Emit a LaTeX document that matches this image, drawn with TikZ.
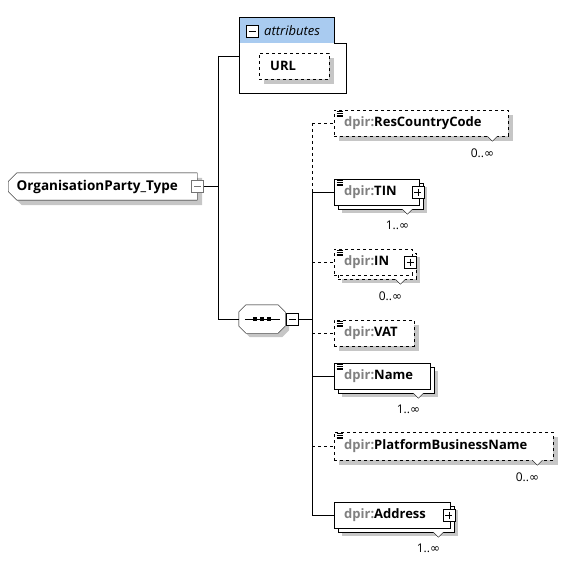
\documentclass[tikz,border=0pt]{standalone}
\usepackage{fontspec}
\setmainfont{Open Sans}
\newfontfamily\symfont{DejaVu Sans}
\usetikzlibrary{positioning,calc,shapes.misc,shadows}

\definecolor{hdrblue}{HTML}{A9CBF0}
\definecolor{shadegray}{HTML}{C6C6C6}
\definecolor{nsgray}{HTML}{808080}

\newcommand{\dpir}[1]{\mbox{{\color{nsgray}dpir:}#1}}
\newcommand{\infmark}{{\symfont ∞}}
\newcommand{\docmark}[1]{\foreach \dy in {1.5,3.3,5.1,6.9} \draw[line width=0.7pt] ($(#1.north west)+(2.5,\dy)$) -- ++(6,0);}
\newcommand{\chev}[1]{\filldraw[fill=white] ($(#1)+(-5,0)$) -- ($(#1)+(0,5)$) -- ($(#1)+(5,0)$);}
\newcommand{\octpath}[1]{($(#1.north west)+(7,0)$) -- ($(#1.north east)+(-7,0)$) -- ($(#1.north east)+(0,7)$)
  -- ($(#1.south east)+(0,-7)$) -- ($(#1.south east)+(-7,0)$) -- ($(#1.south west)+(7,0)$)
  -- ($(#1.south west)+(0,-7)$) -- ($(#1.north west)+(0,7)$) -- cycle}

\tikzset{
  shadeone/.style={general shadow={fill=shadegray,draw=none,shadow xshift=5pt,shadow yshift=-5pt}},
  shadetwo/.style={general shadow={fill=shadegray,draw=none,shadow xshift=8pt,shadow yshift=-8pt},
    general shadow={fill=white,draw=black,#1,shadow xshift=4pt,shadow yshift=-4pt}},
  elbox/.style={draw,fill=white,anchor=west,minimum height=26pt,inner xsep=10pt,inner ysep=0pt,
    align=left,text width=#1,font=\bfseries\fontsize{13}{15}\selectfont},
  optel/.style={elbox=#1,dashed,shadeone},
  optstack/.style={elbox=#1,dashed,shadetwo=dashed},
  reqstack/.style={elbox=#1,shadetwo=solid},
  pmbox/.style={draw,fill=white,minimum size=12pt,inner sep=0pt},
  minus/.style={pmbox,path picture={\draw ([xshift=2.5pt]path picture bounding box.west) -- ([xshift=-2.5pt]path picture bounding box.east);}},
  plus/.style={pmbox,path picture={\draw ([xshift=2.5pt]path picture bounding box.west) -- ([xshift=-2.5pt]path picture bounding box.east);
    \draw ([yshift=-2.5pt]path picture bounding box.north) -- ([yshift=2.5pt]path picture bounding box.south);}},
  mult/.style={inner sep=0pt,font=\fontsize{12}{14}\selectfont},
  typebox/.style={chamfered rectangle,chamfered rectangle corners={north west,south west},
    chamfered rectangle xsep=5pt,draw,fill=white,anchor=west,minimum width=189pt,minimum height=27pt,
    inner xsep=0pt,text width=172pt,align=left,shadeone,font=\bfseries\fontsize{13.5}{15}\selectfont},
  seqbox/.style={minimum width=46pt,minimum height=28pt,inner sep=0pt},
}

\begin{document}
\begin{tikzpicture}[x=1pt,y=-1pt]
\useasboundingbox (0,0) rectangle (572,564);

% Complex type
\node[typebox] (orgtype) at (8,186.5) {OrganisationParty\_Type};
\node[minus,draw=black!55] (orgtype-pm) at (197.5,186.5) {};

% Attributes group
\node[draw,fill=white,anchor=north west,minimum width=107pt,minimum height=50pt] (attrbody) at (239,43) {};
\node[draw,fill=hdrblue,anchor=north west,minimum width=95pt,minimum height=26pt,inner xsep=9pt,
  text width=77pt,align=left,font=\itshape\fontsize{13}{15}\selectfont] (attrhead) at (239,17) {\hspace*{16pt}attributes};
\draw[white,line width=1pt] ($(attrhead.south west)+(0.5,0)$) -- ($(attrhead.south east)+(-0.5,0)$);
\node[minus] (attrhead-pm) at (252,31) {};
\node[optel=48pt,inner xsep=11pt,anchor=north west] (url) at (259,53) {URL};

% Sequence
\node[seqbox] (seq) at (262,319) {};
\fill[shadegray,transform canvas={shift={(4pt,-4pt)}}] \octpath{seq};
\filldraw[fill=white] \octpath{seq};
\draw ($(seq.west)+(6,0)$) -- ($(seq.east)+(-5,0)$);
\foreach \dx in {-7,0,7} \fill ($(seq.center)+(\dx-2,-2)$) rectangle ++(4,4);
\node[minus] (seq-pm) at (292.5,319) {};

% Child elements
\node[optel=154pt] (rcc) at (334,123) {\dpir{ResCountryCode}};
\node[reqstack=65pt] (tin) at (334,192) {\dpir{TIN}};
\node[optstack=58pt] (in) at (334,262) {\dpir{IN}};
\node[optel=60pt] (vat) at (334,333) {\dpir{VAT}};
\node[reqstack=76pt] (name) at (334,376) {\dpir{Name}};
\node[optel=199pt,minimum height=28pt] (pbn) at (334,446) {\dpir{PlatformBusinessName}};
\node[reqstack=96pt] (addr) at (334,515) {\dpir{Address}};
\foreach \el in {rcc,tin,in,vat,name,pbn} \docmark{\el};

% Expand boxes
\node[plus] (tin-pm) at ($(tin.east)+(-1.5,0)$) {};
\node[plus] (in-pm) at ($(in.east)+(-2,0)$) {};
\node[plus] (addr-pm) at ($(addr.east)+(-1.5,0)$) {};

% Occurrence marks
\coordinate (rcc-v) at ($(rcc.south east)+(-16,0)$);
\coordinate (tin-v) at ($(tin.south east)+(-12,4)$);
\coordinate (in-v) at ($(in.south east)+(-12,4)$);
\coordinate (name-v) at ($(name.south east)+(-12,4)$);
\coordinate (pbn-v) at ($(pbn.south east)+(-16,0)$);
\coordinate (addr-v) at ($(addr.south east)+(-12,4)$);
\foreach \el in {rcc,tin,in,name,pbn,addr} \chev{\el-v};
\node[mult,below=12pt of rcc-v,xshift=-10pt] (rcc-m) {0..\infmark};
\node[mult,below=12pt of tin-v,xshift=-10pt] (tin-m) {1..\infmark};
\node[mult,below=12pt of in-v,xshift=-10pt] (in-m) {0..\infmark};
\node[mult,below=12pt of name-v,xshift=-10pt] (name-m) {1..\infmark};
\node[mult,below=12pt of pbn-v,xshift=-10pt] (pbn-m) {0..\infmark};
\node[mult,below=12pt of addr-v,xshift=-10pt] (addr-m) {1..\infmark};

% Connectors
\coordinate (attrjoin) at (218,56);
\coordinate (seqbus) at (312,319);
\draw (orgtype-pm.east) -- (orgtype-pm.east -| attrjoin);
\draw (attrjoin) -- (attrjoin -| attrbody.west);
\draw (attrjoin) -- (attrjoin |- seq.west) -- (seq.west);
\draw (seq-pm.east) -- (seqbus);
\draw[dashed] (rcc.west -| seqbus) -- (tin.west -| seqbus);
\draw (tin.west -| seqbus) -- (addr.west -| seqbus);
\foreach \el in {rcc,in,vat,pbn} \draw[dashed] (\el.west -| seqbus) -- (\el.west);
\foreach \el in {tin,name,addr} \draw (\el.west -| seqbus) -- (\el.west);
\end{tikzpicture}
\end{document}
